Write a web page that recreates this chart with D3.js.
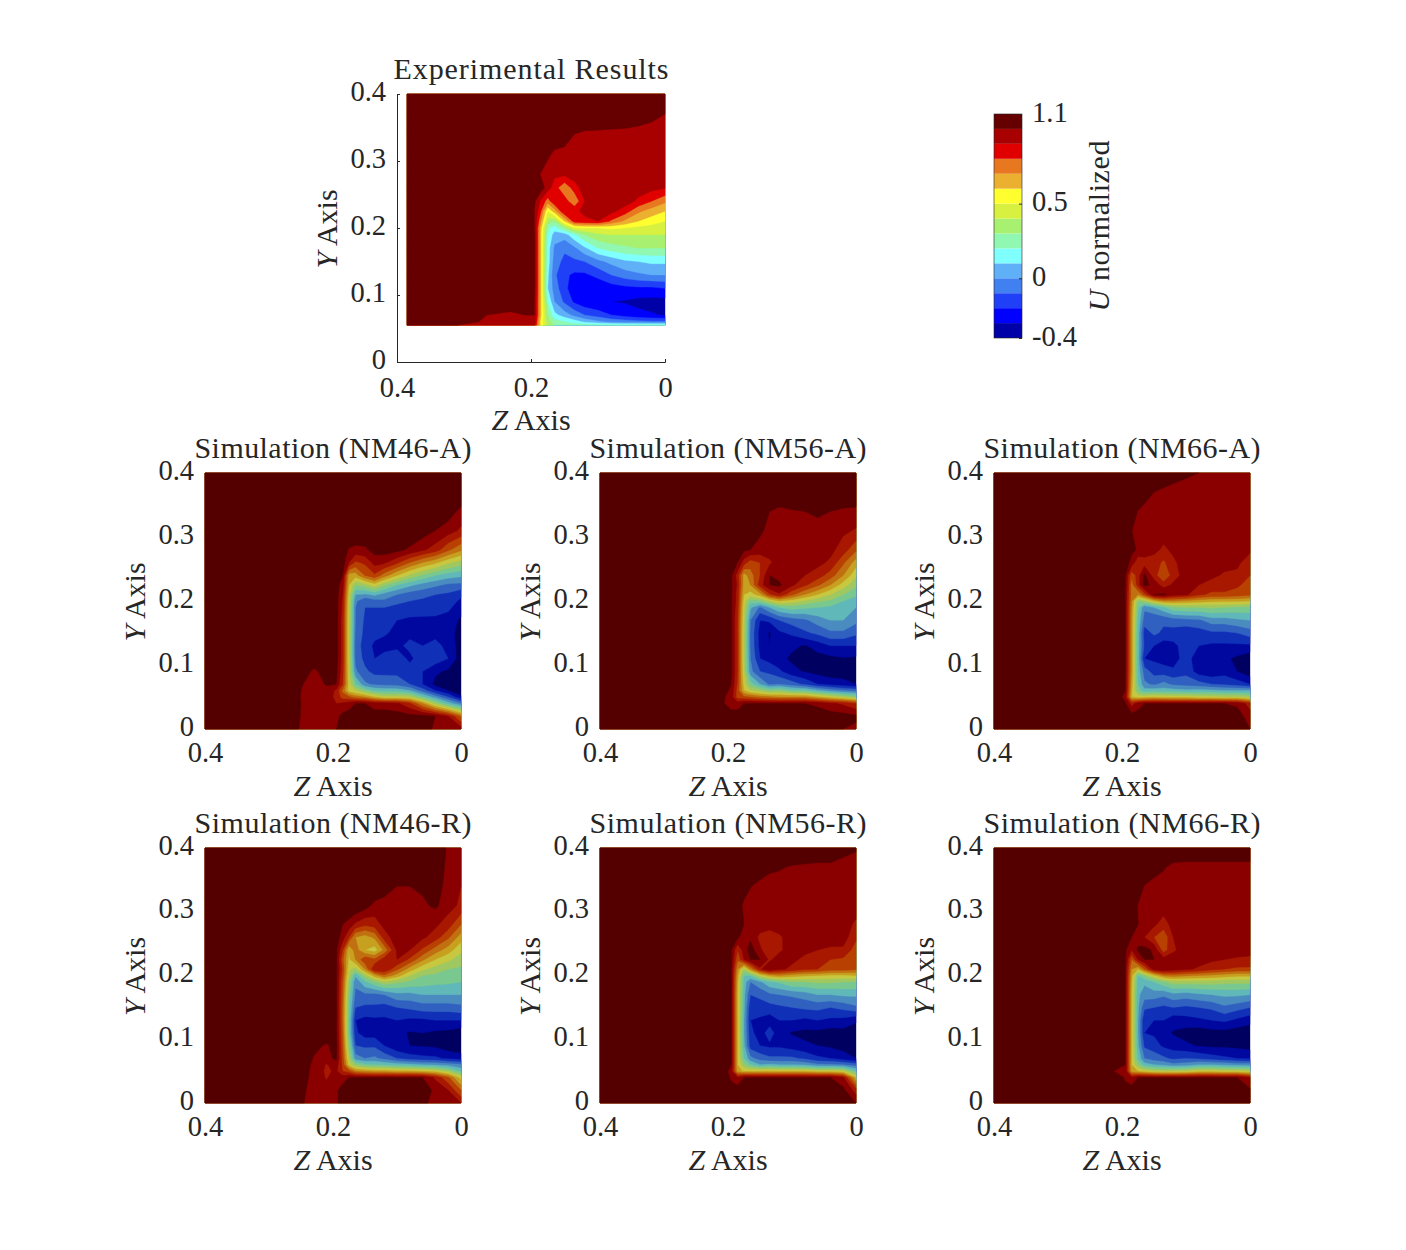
<!DOCTYPE html>
<html>
<head>
<meta charset="utf-8">
<script src="https://cdn.jsdelivr.net/npm/d3@7"></script>
<style>
  html, body { margin: 0; background: #fff; }
  text { font-family: "Liberation Serif", serif; fill: #262626; }
  .domain, .tick line { stroke: #262626; }
</style>
</head>
<body>
<svg id="chart" width="1406" height="1250"></svg>
<script>
// measurement grid, z goes right to left like the axis
const zGrid = [0.4, 0.26, 0.23, 0.21, 0.195, 0.185, 0.175, 0.165, 0.15, 0.135, 0.12, 0.10, 0.08, 0.06, 0.04, 0.02, 0];
const yGrid = [0.4, 0.37, 0.34, 0.31, 0.28, 0.26, 0.24, 0.225, 0.21, 0.2, 0.19, 0.17, 0.15, 0.13, 0.11, 0.09, 0.07, 0.06, 0.05, 0.04, 0.02, 0];
const zGridExp = [0.385, 0.26, 0.23, 0.21, 0.195, 0.185, 0.175, 0.165, 0.15, 0.135, 0.12, 0.10, 0.08, 0.06, 0.04, 0.02, 0];
const yGridExp = [0.4, 0.37, 0.34, 0.31, 0.28, 0.26, 0.24, 0.225, 0.21, 0.2, 0.19, 0.17, 0.15, 0.13, 0.11, 0.09, 0.07, 0.06, 0.055];

const levels = [-0.4, -0.3, -0.2, -0.1, 0, 0.1, 0.2, 0.3, 0.4, 0.5, 0.6, 0.7, 0.8, 0.9, 1.0];
const expColors = ["#0000a8", "#0000ff", "#2040f8", "#4080f0", "#60b0f8", "#80ffff", "#90f8b0", "#a8f070", "#d8f040", "#ffff30", "#ecb030", "#e87820", "#e00000", "#a80000", "#660000"];
const simColors = ["#000060", "#0008a0", "#1030b8", "#3060c0", "#4a8cc0", "#60b8b8", "#78c890", "#a0c860", "#c8c840", "#c8a020", "#c07010", "#b84000", "#a81800", "#8a0000", "#550000"];

const zTicks = [0.4, 0.2, 0];
const yTicks = [0, 0.1, 0.2, 0.3, 0.4];
const cbarTicks = [1.1, 0.5, 0, -0.4];

const expValues = [
 [1.1,1.1,1.1,1.1,1.1,1.1,1.1,1.1,1.1,1.1,1.1,1.1,1.1,1.1,1.1,1.1,1.1],
 [1.1,1.1,1.1,1.1,1.1,1.1,1.1,1.1,1.1,1.1,1.1,1.08,1.06,1.05,1.03,1.02,1.0],
 [1.1,1.1,1.1,1.1,1.1,1.1,1.1,1.07,1.05,1.0,.98,.98,.98,.98,.98,.97,.97],
 [1.1,1.1,1.1,1.1,1.1,1.1,1.02,.98,.97,.97,.97,.97,.97,.97,.96,.96,.96],
 [1.1,1.1,1.1,1.1,1.05,.99,.95,.92,.92,.96,.97,.97,.97,.96,.96,.95,.94],
 [1.1,1.1,1.1,1.1,1.05,1.05,.95,.85,.72,.85,.96,.97,.97,.96,.95,.93,.91],
 [1.1,1.1,1.1,1.1,1.02,.88,.75,.88,.85,.72,.9,.98,.97,.95,.88,.8,.72],
 [1.1,1.1,1.1,1.1,1.0,.8,.5,.65,.9,.88,.92,.95,.93,.85,.72,.65,.6],
 [1.1,1.1,1.1,1.1,1.0,.7,.35,.3,.6,.85,.88,.9,.78,.68,.6,.55,.5],
 [1.1,1.1,1.1,1.1,1.0,.62,.22,.15,.3,.48,.5,.5,.52,.5,.47,.45,.45],
 [1.1,1.1,1.1,1.1,1.02,.6,.2,.05,.05,.18,.3,.38,.4,.4,.4,.4,.4],
 [1.1,1.1,1.1,1.1,1.02,.6,.15,-.02,-.08,-.02,.08,.2,.25,.28,.3,.3,.3],
 [1.1,1.1,1.1,1.1,1.02,.6,.15,-.05,-.13,-.12,-.1,-.03,.03,.08,.1,.12,.12],
 [1.1,1.1,1.1,1.1,1.02,.6,.12,-.08,-.18,-.22,-.22,-.17,-.1,-.05,-.02,0,0],
 [1.1,1.1,1.1,1.1,1.02,.6,.1,-.05,-.17,-.27,-.29,-.28,-.25,-.23,-.22,-.22,-.2],
 [1.1,1.1,1.06,1.02,1.0,.6,.2,0,-.12,-.22,-.27,-.29,-.3,-.31,-.33,-.34,-.34],
 [1.1,.995,.98,1.0,1.0,.6,.3,.13,.05,-.03,-.1,-.15,-.2,-.24,-.27,-.29,-.31],
 [1.06,.99,.98,.99,.95,.55,.35,.25,.2,.15,.08,.02,-.03,-.05,-.07,-.08,-.08],
 [1.03,.98,.97,.97,.93,.55,.38,.3,.28,.25,.24,.23,.22,.22,.22,.22,.22]
];

const nm46a = [
 [1.1,1.1,1.1,1.1,1.1,1.1,1.1,1.1,1.1,1.1,1.1,1.1,1.1,1.1,1.1,1.1,1.1],
 [1.1,1.1,1.1,1.1,1.1,1.1,1.1,1.1,1.1,1.1,1.1,1.1,1.1,1.1,1.1,1.1,1.1],
 [1.1,1.1,1.1,1.1,1.1,1.1,1.1,1.1,1.1,1.1,1.1,1.1,1.1,1.1,1.1,1.05,.97],
 [1.1,1.1,1.1,1.1,1.1,1.1,1.1,1.1,1.1,1.1,1.1,1.1,1.1,1.05,1.0,.95,.88],
 [1.1,1.1,1.1,1.1,1.1,1.05,.99,.97,.98,1.04,1.05,1.03,.98,.92,.85,.72,.62],
 [1.1,1.1,1.1,1.1,1.08,1.05,.9,.78,.82,.94,.92,.82,.7,.6,.52,.42,.35],
 [1.1,1.1,1.1,1.1,1.05,1.0,.55,.55,.7,.78,.65,.5,.38,.28,.2,.15,.12],
 [1.1,1.1,1.1,1.1,1.05,.95,.5,.3,.35,.45,.32,.2,.12,.06,.02,-.02,-.03],
 [1.1,1.1,1.1,1.1,1.05,.9,.45,.1,.08,.12,.06,0,-.05,-.07,-.1,-.12,-.18],
 [1.1,1.1,1.1,1.1,1.05,.88,.42,.02,-.08,-.04,-.02,-.08,-.1,-.12,-.13,-.15,-.22],
 [1.1,1.1,1.1,1.1,1.05,.87,.41,0,-.1,-.1,-.1,-.12,-.14,-.15,-.16,-.18,-.25],
 [1.1,1.1,1.1,1.1,1.05,.85,.4,0,-.12,-.13,-.15,-.2,-.22,-.22,-.22,-.24,-.32],
 [1.1,1.1,1.1,1.1,1.05,.85,.4,-.02,-.13,-.17,-.19,-.22,-.22,-.21,-.22,-.24,-.36],
 [1.1,1.1,1.1,1.1,1.05,.85,.4,-.04,-.15,-.22,-.23,-.22,-.18,-.2,-.18,-.22,-.36],
 [1.1,1.1,1.05,1.1,1.05,.85,.4,-.03,-.13,-.2,-.17,-.15,-.22,-.15,-.14,-.2,-.36],
 [1.1,1.08,.985,1.03,1.03,.83,.42,.02,-.08,-.13,-.13,-.13,-.16,-.2,-.28,-.32,-.38],
 [1.1,1.04,.95,1.01,1.0,.8,.45,.22,.02,-.02,-.03,-.04,-.1,-.2,-.33,-.37,-.38],
 [1.1,1.03,.94,.97,.88,.68,.45,.4,.28,.18,.16,.16,.1,-.05,-.2,-.3,-.36],
 [1.1,1.03,.93,.94,.88,.75,.72,.65,.6,.5,.42,.42,.4,.22,.05,-.1,-.28],
 [1.1,1.03,.94,.92,.9,.92,.95,1.0,1.0,.95,.95,.92,.82,.6,.35,.15,0],
 [1.1,1.03,.93,.93,.97,1.03,1.05,1.05,1.05,1.05,1.05,1.05,1.03,1.03,1.0,.9,.68],
 [1.1,1.02,.93,.96,1.0,1.05,1.05,1.05,1.05,1.05,1.05,1.05,1.05,1.05,.98,.96,.95]
];

const nm56a = [
 [1.1,1.1,1.1,1.1,1.1,1.1,1.1,1.1,1.1,1.1,1.1,1.1,1.1,1.1,1.1,1.1,1.1],
 [1.1,1.1,1.1,1.1,1.1,1.1,1.1,1.1,1.1,1.1,1.1,1.1,1.1,1.1,1.1,1.1,1.1],
 [1.1,1.1,1.1,1.1,1.1,1.1,1.1,1.1,1.1,1.0,.97,.99,1.0,1.02,1.0,.98,.97],
 [1.1,1.1,1.1,1.1,1.1,1.1,1.1,1.1,1.02,.97,.96,.96,.96,.96,.95,.92,.89],
 [1.1,1.1,1.1,1.1,1.1,1.05,1.02,1.0,.96,.95,.95,.95,.95,.95,.93,.85,.72],
 [1.1,1.1,1.1,1.1,1.08,1.0,.85,.75,.8,.88,.95,.95,.95,.93,.88,.72,.55],
 [1.1,1.1,1.1,1.1,1.02,.85,.55,.65,.8,1.0,.97,.93,.9,.85,.75,.6,.42],
 [1.1,1.1,1.1,1.1,1.02,.88,.55,.6,.85,1.0,1.02,.92,.82,.72,.6,.45,.32],
 [1.1,1.1,1.1,1.1,1.02,.85,.5,.45,.55,.78,.88,.72,.6,.5,.4,.3,.22],
 [1.1,1.1,1.1,1.1,1.02,.85,.45,.25,.28,.4,.5,.45,.38,.32,.28,.2,.15],
 [1.1,1.1,1.1,1.1,1.02,.83,.42,.12,-.02,.1,.2,.25,.22,.2,.18,.12,.1],
 [1.1,1.1,1.1,1.1,1.02,.8,.4,0,-.2,-.18,-.1,-.05,-.02,.05,.1,.1,.03],
 [1.1,1.1,1.1,1.1,1.02,.8,.38,-.02,-.24,-.31,-.22,-.18,-.12,-.08,-.02,-.02,-.08],
 [1.1,1.1,1.1,1.1,1.02,.8,.38,-.02,-.23,-.3,-.24,-.28,-.31,-.26,-.2,-.2,-.2],
 [1.1,1.1,1.1,1.1,1.02,.8,.38,0,-.2,-.24,-.27,-.32,-.35,-.34,-.33,-.31,-.32],
 [1.1,1.1,1.1,1.1,1.02,.8,.4,.03,-.1,-.12,-.18,-.27,-.31,-.34,-.36,-.36,-.37],
 [1.1,1.1,1.1,1.1,1.0,.78,.45,.25,.1,-.02,0,-.05,-.12,-.2,-.24,-.26,-.3],
 [1.1,1.1,1.1,1.05,.98,.75,.5,.4,.35,.28,.3,.22,.2,.12,.05,0,-.03],
 [1.1,1.1,1.1,1.03,.95,.75,.72,.7,.65,.62,.6,.6,.6,.52,.45,.38,.3],
 [1.1,1.1,1.1,1.02,.95,.95,1.0,1.0,1.0,1.0,1.0,1.0,1.0,.98,.92,.88,.8],
 [1.1,1.1,1.1,1.1,1.05,1.05,1.05,1.05,1.05,1.05,1.05,1.05,1.05,1.05,1.05,1.04,1.02],
 [1.1,1.1,1.1,1.05,1.05,1.05,1.05,1.05,1.05,1.05,1.05,1.05,1.05,1.05,1.03,1.0,.98]
];

const nm66a = [
 [1.1,1.1,1.1,1.1,1.1,1.1,1.1,1.1,1.1,1.1,1.05,1.02,1.0,.98,.96,.96,.96],
 [1.1,1.1,1.1,1.1,1.1,1.1,1.1,1.06,1.0,.97,.96,.95,.95,.95,.95,.95,.95],
 [1.1,1.1,1.1,1.1,1.1,1.06,.995,.96,.95,.95,.95,.95,.95,.95,.95,.95,.95],
 [1.1,1.1,1.1,1.1,1.05,1.003,.97,.95,.95,.95,.95,.95,.95,.95,.95,.95,.95],
 [1.1,1.1,1.1,1.1,1.08,1.02,.99,.97,.93,.88,.92,.95,.95,.95,.95,.94,.92],
 [1.1,1.1,1.1,1.1,1.05,.97,.82,.85,.85,.78,.88,.95,.95,.95,.95,.92,.85],
 [1.1,1.1,1.1,1.1,1.02,.72,.85,1.03,.85,.7,.85,.95,.95,.93,.88,.88,.8],
 [1.1,1.1,1.1,1.1,1.02,.65,.85,1.03,.97,.85,.92,.93,.9,.85,.85,.82,.75],
 [1.1,1.1,1.1,1.1,1.0,.65,.6,.75,1.0,1.02,.95,.92,.82,.78,.78,.75,.72],
 [1.1,1.1,1.1,1.1,1.0,.62,.3,.35,.5,.6,.6,.58,.55,.52,.52,.52,.5],
 [1.1,1.1,1.1,1.1,1.0,.6,.22,.02,.1,.18,.28,.3,.3,.32,.3,.28,.28],
 [1.1,1.1,1.1,1.1,1.0,.58,.18,-.05,-.1,-.08,-.05,-.03,-.02,.05,.05,.08,.1],
 [1.1,1.1,1.1,1.1,1.0,.58,.15,-.15,-.08,-.12,-.14,-.18,-.15,-.12,-.12,-.1,-.05],
 [1.1,1.1,1.1,1.1,1.0,.58,.15,-.12,-.2,-.26,-.23,-.15,-.2,-.22,-.22,-.22,-.22],
 [1.1,1.1,1.1,1.1,1.0,.58,.15,-.2,-.22,-.25,-.25,-.15,-.27,-.3,-.28,-.32,-.38],
 [1.1,1.1,1.1,1.1,1.0,.58,.16,-.05,-.14,-.15,-.18,-.13,-.25,-.28,-.24,-.3,-.37],
 [1.1,1.1,1.1,1.1,1.0,.55,.2,.02,-.02,.03,-.02,-.04,-.06,-.1,-.12,-.15,-.2],
 [1.1,1.1,1.1,1.1,1.0,.52,.25,.14,.15,.15,.14,.12,.13,.12,.1,.1,.1],
 [1.1,1.1,1.1,1.1,.95,.5,.45,.45,.48,.46,.45,.45,.42,.42,.4,.4,.35],
 [1.1,1.1,1.1,1.1,1.02,.85,.95,1.0,1.0,1.0,1.0,1.0,1.0,1.0,1.0,.98,.85],
 [1.1,1.1,1.1,1.1,1.05,1.05,1.05,1.05,1.05,1.05,1.05,1.05,1.05,1.05,1.05,1.05,.95],
 [1.1,1.1,1.1,1.1,1.05,1.05,1.05,1.05,1.05,1.05,1.05,1.05,1.05,1.05,1.05,1.05,1.0]
];

const nm46r = [
 [1.1,1.1,1.1,1.1,1.1,1.1,1.1,1.1,1.1,1.1,1.1,1.1,1.1,1.1,1.1,.98,.95],
 [1.1,1.1,1.1,1.1,1.1,1.1,1.1,1.1,1.1,1.1,1.1,1.1,1.1,1.1,1.1,.96,.93],
 [1.1,1.1,1.1,1.1,1.1,1.1,1.1,1.1,1.1,1.1,1.05,1.0,1.0,1.02,1.05,.96,.9],
 [1.1,1.1,1.1,1.1,1.1,1.1,1.1,1.1,1.05,.97,.96,.96,.96,.98,1.02,.94,.88],
 [1.1,1.1,1.1,1.1,1.1,1.0,.96,.88,.82,.85,.93,.96,.96,.95,.92,.85,.7],
 [1.1,1.1,1.1,1.1,1.05,.95,.8,.6,.55,.62,.85,.96,.96,.92,.85,.72,.55],
 [1.1,1.1,1.1,1.1,1.03,.8,.5,.65,.5,.45,.62,.92,.9,.78,.65,.55,.42],
 [1.1,1.1,1.1,1.1,1.02,.72,.48,.6,.78,.72,.85,.9,.78,.62,.5,.42,.35],
 [1.1,1.1,1.1,1.1,1.02,.78,.42,.35,.6,.9,.9,.72,.55,.42,.35,.3,.28],
 [1.1,1.1,1.1,1.1,1.02,.75,.38,.12,.35,.55,.68,.55,.4,.3,.28,.27,.25],
 [1.1,1.1,1.1,1.1,1.02,.72,.32,.02,.18,.28,.38,.32,.28,.25,.23,.22,.2],
 [1.1,1.1,1.1,1.1,1.02,.7,.25,-.02,-.02,-.03,0,.07,.07,.1,.1,.1,.1],
 [1.1,1.1,1.1,1.1,1.02,.68,.22,-.1,-.12,-.12,-.14,-.1,-.08,-.05,-.05,-.05,-.03],
 [1.1,1.1,1.1,1.1,1.02,.68,.2,-.2,-.23,-.22,-.22,-.2,-.22,-.22,-.2,-.2,-.2],
 [1.1,1.1,1.1,1.05,1.02,.7,.2,-.18,-.25,-.25,-.27,-.27,-.31,-.3,-.32,-.33,-.36],
 [1.1,1.1,1.02,.99,1.03,.72,.28,-.1,-.12,-.12,-.2,-.28,-.3,-.31,-.32,-.36,-.38],
 [1.1,1.1,.995,.97,1.02,.75,.38,.05,0,.02,-.03,-.1,-.15,-.17,-.18,-.22,-.25],
 [1.1,1.1,.98,.89,.95,.78,.45,.3,.22,.2,.18,.15,.13,.1,.08,.05,.02],
 [1.1,1.1,.97,.88,.92,.8,.75,.62,.58,.55,.55,.52,.52,.5,.45,.35,.18],
 [1.1,1.08,.97,.89,.95,.95,1.0,1.0,1.0,1.0,1.0,1.0,1.0,1.0,.88,.72,.45],
 [1.1,1.03,.98,.94,.98,1.05,1.05,1.05,1.05,1.05,1.05,1.05,1.05,1.05,.98,.9,.7],
 [1.1,1.02,.98,.97,.98,1.05,1.05,1.05,1.05,1.05,1.05,1.05,1.05,1.02,.97,.92,.9]
];

const nm56r = [
 [1.1,1.1,1.1,1.1,1.1,1.1,1.1,1.1,1.1,1.1,1.1,1.1,1.1,1.1,1.1,1.03,1.01],
 [1.1,1.1,1.1,1.1,1.1,1.1,1.1,1.1,1.06,1.02,1.01,.99,.98,.97,.97,.97,.96],
 [1.1,1.1,1.1,1.1,1.1,1.1,1.05,1.005,.97,.96,.96,.96,.96,.96,.96,.96,.96],
 [1.1,1.1,1.1,1.1,1.1,1.05,.98,.96,.96,.96,.96,.96,.96,.96,.96,.96,.95],
 [1.1,1.1,1.1,1.1,1.1,1.05,1.0,.97,.96,.96,.96,.96,.96,.96,.96,.95,.88],
 [1.1,1.1,1.1,1.1,1.05,1.02,.95,.98,.87,.82,.88,.96,.96,.96,.96,.95,.82],
 [1.1,1.1,1.1,1.1,1.02,.8,.95,1.05,.92,.82,.88,.95,.92,.9,.88,.88,.75],
 [1.1,1.1,1.1,1.1,1.02,.72,.9,1.0,1.0,.88,.95,.92,.88,.85,.8,.78,.72],
 [1.1,1.1,1.1,1.1,1.0,.6,.35,.6,.88,1.0,.92,.88,.82,.8,.75,.75,.72],
 [1.1,1.1,1.1,1.1,1.0,.55,.2,.2,.42,.55,.6,.55,.52,.5,.48,.48,.5],
 [1.1,1.1,1.1,1.1,1.0,.52,.15,0,.08,.18,.22,.3,.3,.32,.32,.3,.3],
 [1.1,1.1,1.1,1.1,1.0,.5,.13,-.1,-.08,-.02,0,.02,.05,.1,.1,.12,.12],
 [1.1,1.1,1.1,1.1,1.0,.5,.12,-.17,-.14,-.14,-.12,-.1,-.08,-.07,-.1,-.07,-.02],
 [1.1,1.1,1.1,1.1,1.0,.5,.1,-.2,-.22,-.25,-.2,-.2,-.22,-.2,-.22,-.23,-.28],
 [1.1,1.1,1.1,1.1,1.0,.5,.1,-.17,-.25,-.15,-.26,-.31,-.33,-.33,-.35,-.34,-.37],
 [1.1,1.1,1.1,1.1,1.0,.5,.12,-.15,-.2,-.22,-.22,-.25,-.28,-.3,-.32,-.34,-.38],
 [1.1,1.1,1.1,1.1,1.0,.5,.2,.03,-.04,-.08,-.08,-.08,-.12,-.18,-.2,-.25,-.3],
 [1.1,1.1,1.0,1.05,1.0,.5,.32,.2,.1,.12,.1,.1,.08,.02,.02,0,-.05],
 [1.1,1.1,1.1,1.1,.95,.55,.48,.48,.5,.5,.48,.48,.48,.45,.45,.42,.2],
 [1.1,1.1,1.1,1.1,.98,.92,1.0,1.0,1.0,1.0,1.0,1.0,1.0,1.0,1.0,.92,.5],
 [1.1,1.1,1.1,1.1,1.05,1.05,1.05,1.05,1.05,1.05,1.05,1.05,1.05,1.05,1.05,1.03,.85],
 [1.1,1.1,1.1,1.1,1.05,1.05,1.05,1.05,1.05,1.05,1.05,1.05,1.05,1.05,1.05,1.05,1.0]
];

const nm66r = [
 [1.1,1.1,1.1,1.1,1.1,1.1,1.1,1.1,1.1,1.1,1.1,1.1,1.1,1.1,1.1,1.1,1.1],
 [1.1,1.1,1.1,1.1,1.1,1.1,1.1,1.1,1.05,1.01,.97,.96,.96,.96,.96,.96,.96],
 [1.1,1.1,1.1,1.1,1.1,1.1,1.06,.995,.96,.96,.96,.96,.96,.96,.96,.96,.96],
 [1.1,1.1,1.1,1.1,1.1,1.06,.995,.96,.96,.96,.96,.96,.96,.96,.96,.96,.96],
 [1.1,1.1,1.1,1.1,1.1,1.05,1.002,.97,.92,.85,.94,.96,.96,.96,.96,.96,.95],
 [1.1,1.1,1.1,1.1,1.05,1.0,.95,.9,.8,.72,.9,.96,.96,.96,.96,.96,.93],
 [1.1,1.1,1.1,1.1,1.02,.9,1.02,1.04,.98,.75,.88,.96,.96,.96,.96,.96,.95],
 [1.1,1.1,1.1,1.1,1.02,.7,.9,1.0,1.0,.95,.96,.96,.95,.92,.9,.88,.87],
 [1.1,1.1,1.1,1.1,1.0,.6,.5,.7,.95,1.0,.96,.92,.88,.83,.8,.78,.78],
 [1.1,1.1,1.1,1.1,1.0,.55,.2,.3,.48,.62,.65,.62,.6,.58,.55,.52,.52],
 [1.1,1.1,1.1,1.1,1.0,.52,.15,.12,.2,.28,.35,.35,.35,.35,.33,.33,.33],
 [1.1,1.1,1.1,1.1,1.0,.5,.12,.05,.05,.02,.07,.05,.08,.1,.12,.12,.1],
 [1.1,1.1,1.1,1.1,1.0,.5,.12,-.08,-.1,-.12,-.1,-.12,-.1,-.08,-.02,-.06,-.1],
 [1.1,1.1,1.1,1.1,1.0,.5,.1,-.2,-.2,-.2,-.26,-.24,-.22,-.2,-.18,-.22,-.26],
 [1.1,1.1,1.1,1.1,1.0,.5,.1,-.2,-.22,-.26,-.31,-.34,-.36,-.34,-.34,-.36,-.37],
 [1.1,1.1,1.1,1.1,1.0,.5,.12,-.12,-.15,-.22,-.25,-.28,-.31,-.32,-.32,-.33,-.34],
 [1.1,1.1,1.1,1.1,1.0,.5,.18,0,-.05,-.08,-.12,-.1,-.12,-.15,-.18,-.2,-.22],
 [1.1,1.1,1.1,1.1,1.0,.5,.3,.15,.1,.08,.03,.05,.1,.1,.08,.05,.05],
 [1.1,1.1,1.1,.98,.98,.55,.5,.45,.4,.38,.38,.4,.45,.45,.42,.42,.4],
 [1.1,1.1,1.1,1.1,.98,.92,1.0,1.0,1.0,1.0,1.0,1.0,1.0,1.0,1.0,1.0,.9],
 [1.1,1.1,1.1,1.1,1.05,1.05,1.05,1.05,1.05,1.05,1.05,1.05,1.05,1.05,1.05,1.05,1.02],
 [1.1,1.1,1.1,1.1,1.05,1.05,1.05,1.05,1.05,1.05,1.05,1.05,1.05,1.05,1.05,1.05,1.0]
];

const svg = d3.select("#chart");
const tickFont = 28.5, titleFont = 30, labelFont = 30;

function contourPanel(g, rows, zs, ys, x, y, colors) {
    const nx = zs.length, ny = ys.length;
    // contour coords sit on cell centres, so shift by half a cell
    const col = d3.scaleLinear().domain(d3.range(nx).map(i => i + 0.5)).range(zs).clamp(true);
    const row = d3.scaleLinear().domain(d3.range(ny).map(i => i + 0.5)).range(ys).clamp(true);
    const path = d3.geoPath(d3.geoTransform({
        point(a, b) { this.stream.point(x(col(a)), y(row(b))); }
    }));
    const bands = d3.contours().size([nx, ny]).thresholds(levels)(rows.flat());
    g.selectAll("path.band")
        .data(bands)
        .enter()
        .append("path")
        .attr("class", "band")
        .attr("d", path)
        .attr("fill", (d, i) => colors[i])
        .attr("stroke", (d, i) => colors[i])
        .attr("stroke-width", 0.4);
}

function drawPanel({ left, top, width, height, rows, zs, ys, colors, title, frame, titleX, tickGap, titleLen }) {
    const x = d3.scaleLinear().domain([0.4, 0]).range([left, left + width]);
    const y = d3.scaleLinear().domain([0, 0.4]).range([top + height, top]);
    const g = svg.append("g");
    const size = frame ? -3 : 0;

    const xAxis = g.append("g")
        .attr("transform", `translate(0,${top + height})`)
        .call(d3.axisBottom(x).tickValues(zTicks).tickSize(size).tickPadding(0).tickFormat(d => d));
    const yAxis = g.append("g")
        .attr("transform", `translate(${left},0)`)
        .call(d3.axisLeft(y).tickValues(yTicks).tickSize(size).tickPadding(0).tickFormat(d => d));
    if (!frame) {
        xAxis.select(".domain").remove();
        yAxis.select(".domain").remove();
    }
    xAxis.selectAll("text").attr("font-size", tickFont).attr("y", tickGap).attr("dy", "0.33em");
    yAxis.selectAll("text").attr("font-size", tickFont).attr("x", -11).attr("dy", "0.21em");

    contourPanel(g, rows, zs, ys, x, y, colors);

    g.append("text").attr("x", titleX).attr("y", top - 15).attr("text-anchor", "middle")
        .attr("font-size", titleFont).attr("textLength", titleLen).attr("lengthAdjust", "spacing").text(title);

    const zLabel = g.append("text").attr("x", left + width / 2).attr("y", top + height + (frame ? 68 : 67))
        .attr("text-anchor", "middle").attr("font-size", labelFont);
    zLabel.append("tspan").attr("font-style", "italic").text("Z");
    zLabel.append("tspan").text(" Axis");

    const yLabel = g.append("text")
        .attr("transform", `translate(${left - 60},${top + height / 2 + 1}) rotate(-90)`)
        .attr("text-anchor", "middle").attr("font-size", labelFont);
    yLabel.append("tspan").attr("font-style", "italic").text("Y");
    yLabel.append("tspan").text(" Axis");
}

drawPanel({ left: 397, top: 94, width: 268, height: 268, rows: expValues, zs: zGridExp, ys: yGridExp, colors: expColors, title: "Experimental Results", frame: true, titleX: 531, tickGap: 26, titleLen: 275 });

const simPanels = [
    { left: 205, top: 473, height: 256, rows: nm46a, title: "Simulation (NM46-A)" },
    { left: 600, top: 473, height: 256, rows: nm56a, title: "Simulation (NM56-A)" },
    { left: 994, top: 473, height: 256, rows: nm66a, title: "Simulation (NM66-A)" },
    { left: 205, top: 848, height: 255, rows: nm46r, title: "Simulation (NM46-R)" },
    { left: 600, top: 848, height: 255, rows: nm56r, title: "Simulation (NM56-R)" },
    { left: 994, top: 848, height: 255, rows: nm66r, title: "Simulation (NM66-R)" }
];
simPanels.forEach(p => drawPanel({ ...p, width: 256, zs: zGrid, ys: yGrid, colors: simColors, frame: false, titleX: p.left + 128, tickGap: 24, titleLen: 277 }));

// colorbar
const cbar = svg.append("g");
const cScale = d3.scaleLinear().domain([-0.4, 1.1]).range([338, 114]);
cbar.selectAll("rect")
    .data(levels)
    .enter()
    .append("rect")
    .attr("x", 994)
    .attr("width", 28)
    .attr("y", d => cScale(d + 0.1))
    .attr("height", d => cScale(d) - cScale(d + 0.1))
    .attr("fill", (d, i) => expColors[i]);
cbar.append("rect").attr("x", 994).attr("y", 114).attr("width", 28).attr("height", 224)
    .attr("fill", "none").attr("stroke", "#262626").attr("stroke-width", 0.6);
cbar.append("g")
    .attr("transform", "translate(1022,0)")
    .call(d3.axisRight(cScale).tickValues(cbarTicks).tickSize(-3).tickPadding(10).tickFormat(d => d))
    .call(a => a.select(".domain").remove())
    .selectAll("text").attr("font-size", tickFont).attr("dy", "0.25em");
const cLabel = cbar.append("text")
    .attr("transform", "translate(1109,226) rotate(-90)")
    .attr("text-anchor", "middle").attr("font-size", labelFont).attr("textLength", 171).attr("lengthAdjust", "spacing");
cLabel.append("tspan").attr("font-style", "italic").text("U");
cLabel.append("tspan").text(" normalized");
</script>
</body>
</html>
